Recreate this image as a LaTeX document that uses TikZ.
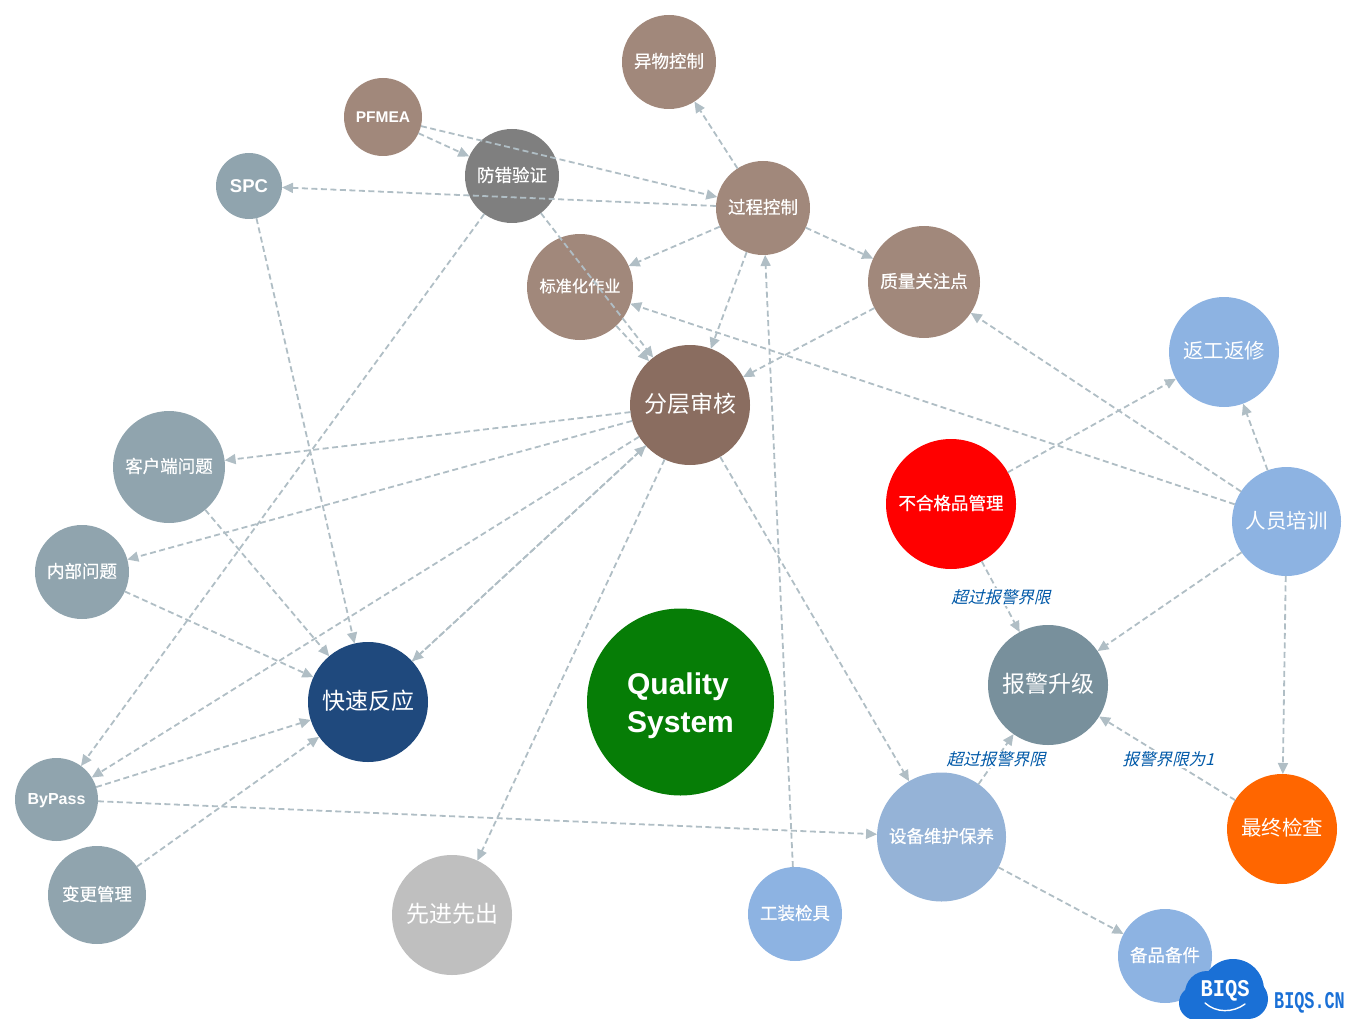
\documentclass[tikz,border=0pt]{standalone}
\usepackage{fontspec}
\setmainfont{Noto Sans CJK SC}
\newfontfamily\cjkb[FakeBold=0.5]{Noto Sans CJK SC}
\newfontfamily\cjki[FakeSlant=0.25]{Noto Sans CJK SC}
\newfontfamily\latb{Liberation Sans}
\newfontfamily\logof{Liberation Mono}
\usetikzlibrary{arrows.meta,calc}
\definecolor{brownA}{HTML}{A1887B}
\definecolor{brownB}{HTML}{8A6D60}
\definecolor{grayA}{HTML}{7F7F7F}
\definecolor{grayB}{HTML}{90A4AE}
\definecolor{grayC}{HTML}{78909C}
\definecolor{grayD}{HTML}{BFBFBF}
\definecolor{blueA}{HTML}{8DB3E2}
\definecolor{blueB}{HTML}{95B3D7}
\definecolor{navy}{HTML}{1F497D}
\definecolor{greenA}{HTML}{067D06}
\definecolor{orangeA}{HTML}{FF6600}
\definecolor{edgec}{HTML}{B0BEC5}
\definecolor{labc}{HTML}{0059A8}
\definecolor{logoc}{HTML}{1A70D6}
\newcommand{\fs}[1]{\fontsize{#1pt}{#1pt}\selectfont}
\tikzset{
  ball/.style={circle,inner sep=0pt,outer sep=0pt,text=white,align=center,font=\cjkb\fs{17.5}},
  big/.style={font=\fs{23}},
  mid/.style={font=\fs{20.5}},
  lat/.style={font=\latb\bfseries\fs{#1}},
  flow/.style={draw=edgec,line width=1.8pt,dash pattern=on 6pt off 3.5pt,-{Triangle[length=11pt,width=10pt,fill=edgec]}},
  lab/.style={font=\cjki\fs{16.5},text=labc,fill=white,inner sep=1pt}
}
\newcommand{\ball}[7]{\node[ball,minimum size=#4pt,fill=#5,#6] (#1) at (#2,#3) {\raisebox{\dimexpr-0.38em+1pt\relax}[0pt][0pt]{#7}}}
\newcommand{\balll}[7]{\node[ball,minimum size=#4pt,fill=#5,#6] (#1) at (#2,#3) {#7}}
\begin{document}
\begin{tikzpicture}[x=1pt,y=-1pt]
\useasboundingbox (0,0) rectangle (1357,1019);
\ball{yiwu}{669}{62}{94}{brownA}{}{异物控制};
\balll{pfmea}{383}{117}{78}{brownA}{lat=15.5}{PFMEA};
\ball{fangcuo}{512}{176}{94}{grayA}{}{防错验证};
\balll{spc}{249}{186}{66}{grayB}{lat=18.5}{SPC};
\ball{guocheng}{763}{208}{94}{brownA}{}{过程控制};
\ball{biaozhun}{580}{287}{106}{brownA}{font=\cjkb\fs{16.2}}{标准化作业};
\ball{zhiliang}{924}{282}{112}{brownA}{}{质量关注点};
\ball{fenceng}{690}{405}{120}{brownB}{big}{分层审核};
\ball{fangong}{1224}{352}{110}{blueA}{mid}{返工返修};
\ball{kehu}{169}{467}{112}{grayB}{}{客户端问题};
\ball{buhege}{951}{504}{130}{red}{}{不合格品管理};
\ball{renyuan}{1286.5}{521.5}{109}{blueA}{mid}{人员培训};
\ball{neibu}{82}{572}{94}{grayB}{}{内部问题};
\ball{baojing}{1048}{685}{120}{grayC}{big}{报警升级};
\ball{kuaisu}{368}{702}{120}{navy}{big}{快速反应};
\balll{quality}{680.5}{702}{187}{greenA}{align=left,font=\latb\bfseries\fs{30}}{\rule{0pt}{29pt}Quality\\[8pt]System};
\balll{bypass}{56.5}{799.5}{83}{grayB}{lat=16}{\rule{0pt}{14pt}ByPass};
\ball{shebei}{941.5}{837}{129}{blueB}{}{设备维护保养};
\ball{zuizhong}{1282}{829}{110}{orangeA}{mid}{最终检查};
\ball{biangeng}{97}{895}{98}{grayB}{}{变更管理};
\ball{xianjin}{452}{915}{120}{grayD}{big}{先进先出};
\ball{gongzhuang}{795}{914}{94}{blueA}{}{工装检具};
\ball{beipin}{1165}{956}{94}{blueA}{}{备品备件};
% connectors
\foreach \a/\b in {pfmea/fangcuo,pfmea/guocheng,guocheng/spc,guocheng/yiwu,guocheng/biaozhun,guocheng/zhiliang,guocheng/fenceng,fangcuo/fenceng,fangcuo/bypass,biaozhun/fenceng,spc/kuaisu,zhiliang/fenceng,renyuan/biaozhun,renyuan/zhiliang,renyuan/fangong,renyuan/baojing,renyuan/zuizhong,buhege/fangong,fenceng/kehu,fenceng/neibu,fenceng/bypass,fenceng/kuaisu,kuaisu/fenceng,fenceng/xianjin,fenceng/shebei,gongzhuang/guocheng,shebei/beipin,kehu/kuaisu,neibu/kuaisu,bypass/kuaisu,biangeng/kuaisu,bypass/shebei}
  {\draw[flow] (\a) -- (\b);}
\draw[flow] (buhege) -- node[lab,pos=0.505] (la) {超过报警界限} (baojing);
\draw[flow] (shebei) -- node[lab,pos=0.50] (lb) {超过报警界限} (baojing);
\draw[flow] (zuizhong) -- node[lab,pos=0.49] (lc) {报警界限为1} (baojing);
% logo
\fill[logoc] (1233,990) circle (31);
\fill[logoc] (1207,993) circle (22);
\fill[logoc] (1196,1003) circle (17);
\fill[logoc] (1248,999) circle (20);
\fill[logoc] (1196,1000) rectangle (1250,1019.5);
\node[text=white,font=\logof\bfseries\fs{24},inner sep=0pt,xscale=0.85] (logoa) at (1225,991) {BIQS};
\coordinate (swa) at (1205,1003);
\coordinate (swb) at (1245,1004);
\draw[white,line width=1.4pt,line cap=round] (swa) .. controls (1216,1013) and (1233,1013) .. (swb);
\node[text=logoc,font=\logof\bfseries\fs{24},inner sep=0pt,xscale=0.7] (logob) at (1309.5,1003) {BIQS.CN};
\end{tikzpicture}
\end{document}
